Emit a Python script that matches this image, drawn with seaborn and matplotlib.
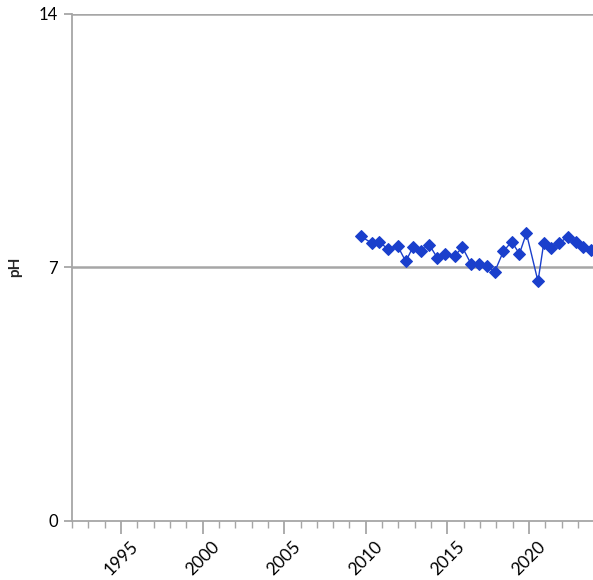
import matplotlib
matplotlib.use("Agg")
import matplotlib.pyplot as plt
from matplotlib.ticker import MultipleLocator
import seaborn as sns
import pandas as pd

# Sampling dates (decimal years) and measured pH
years = [2009.71, 2010.36, 2010.83, 2011.34, 2011.96, 2012.45, 2012.88, 2013.37,
         2013.89, 2014.38, 2014.87, 2015.45, 2015.92, 2016.45, 2016.94, 2017.41,
         2017.90, 2018.43, 2018.94, 2019.41, 2019.84, 2020.55, 2020.90, 2021.37,
         2021.86, 2022.37, 2022.86, 2023.33, 2023.82]
ph = [7.85, 7.67, 7.70, 7.51, 7.58, 7.16, 7.55, 7.46,
      7.62, 7.26, 7.37, 7.32, 7.55, 7.09, 7.09, 7.04,
      6.88, 7.44, 7.71, 7.37, 7.94, 6.61, 7.66, 7.53,
      7.68, 7.83, 7.71, 7.57, 7.48]
y_ticks = [0, 7, 14]
x_ticks = [1995, 2000, 2005, 2010, 2015, 2020]

df = pd.DataFrame({"year": years, "pH": ph})

sns.set_theme(style="white")
plt.rcParams["font.family"] = ["Lato", "DejaVu Sans"]

fig = plt.figure(figsize=(5.93, 5.8), dpi=100)
ax = fig.add_axes([72 / 593, 1 - 520.5 / 580, 1 - 72 / 593, (520.5 - 14) / 580])

grey = "#a6a6a6"
blue = "#1a3fcc"

for v in y_ticks[1:]:
    ax.axhline(v, color=grey, lw=1.8, zorder=1)

sns.lineplot(data=df, x="year", y="pH", ax=ax, color=blue, lw=1.0,
             marker="D", markersize=6.5, markeredgecolor=blue, markerfacecolor=blue,
             zorder=3)

ax.set_xlim(1992, 2023.92)
ax.set_ylim(0, 14)
ax.set_yticks(y_ticks)
ax.set_xticks(x_ticks)
ax.xaxis.set_minor_locator(MultipleLocator(1))

for s in ["top", "right"]:
    ax.spines[s].set_visible(False)
for s in ["left", "bottom"]:
    ax.spines[s].set_color(grey)
    ax.spines[s].set_linewidth(1.3)

ax.tick_params(axis="y", which="major", direction="out", length=6, width=1.3,
               color=grey, left=True, labelsize=12, pad=4, labelcolor="black")
ax.tick_params(axis="x", which="major", direction="out", length=9, width=1.3,
               color=grey, bottom=True, labelsize=12.5, pad=4, labelcolor="black")
ax.tick_params(axis="x", which="minor", direction="out", length=5, width=1.0,
               color=grey, bottom=True)
plt.setp(ax.get_xticklabels(), rotation=45)

ax.set_xlabel("")
ax.set_ylabel("pH", fontsize=11, fontweight="bold")
ax.yaxis.set_label_coords(-0.096, 0.5)

fig.savefig("out.png", dpi=100)
